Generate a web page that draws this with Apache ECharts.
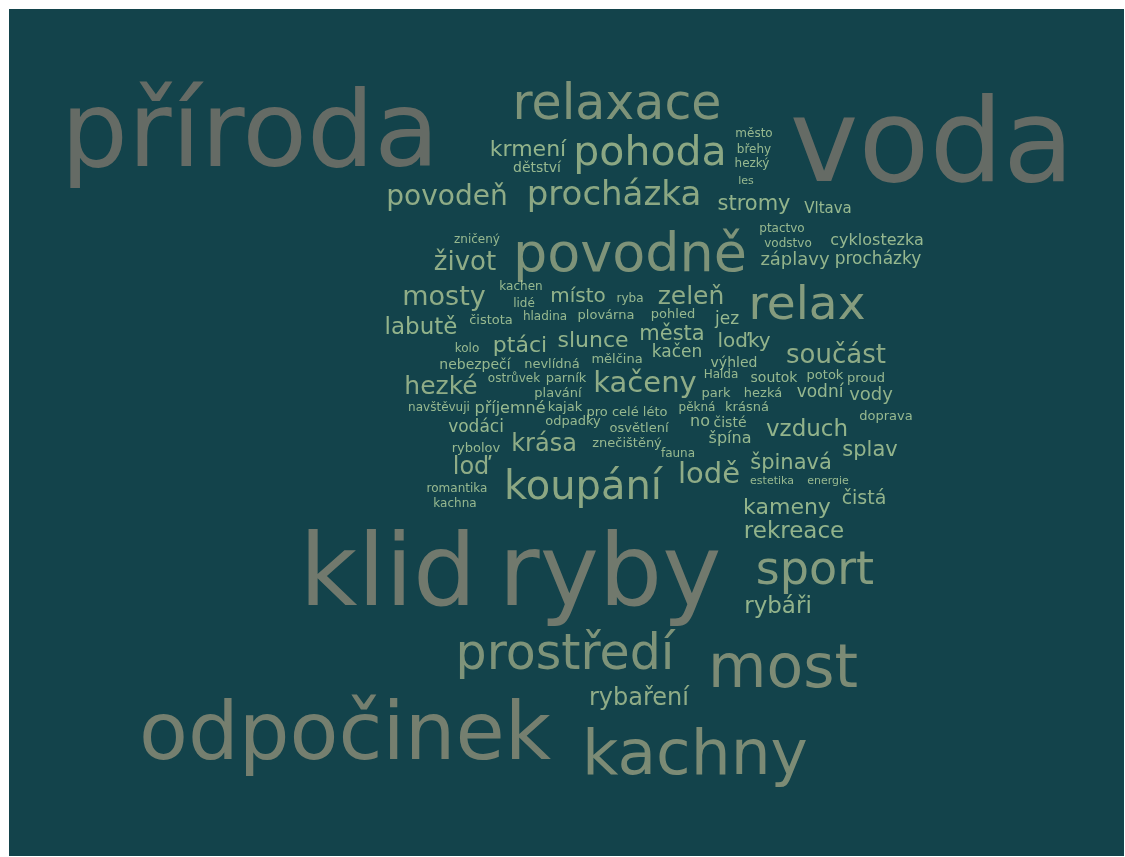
<!DOCTYPE html>
<html>
<head>
<meta charset="utf-8">
<script src="https://cdn.jsdelivr.net/npm/echarts@6/dist/echarts.min.js"></script>
<style>
html,body{margin:0;padding:0;background:#ffffff;}
#chart{position:absolute;left:9px;top:9px;width:1115px;height:847px;}
</style>
</head>
<body>
<div id="chart"></div>
<script>
// Words of the cloud and their weights (weight drives the font size)
var words = [
 'příroda','voda','klid','ryby','odpočinek','kachny','most','prostředí','sport','relaxace',
 'povodně','relax','koupání','pohoda','procházka','kačeny','lodě','povodeň','mosty','hezké',
 'součást','zeleň','život','labutě','vzduch','krmení','krása','loď','rekreace','stromy',
 'ptáci','slunce','splav','špinavá','kameny','rybáři','rybaření','města','místo','vody',
 'vodní','čistá','loďky','příjemné','vodáci','záplavy','procházky','no','cyklostezka','jez',
 'kačen','špína','Vltava','dětství','znečištěný','osvětlení','pro celé léto','odpadky','čisté','výhled',
 'plavání','kajak','ostrůvek','parník','navštěvuji','nebezpečí','nevlídná','mělčina','kolo','kachen',
 'lidé','čistota','hladina','plovárna','pohled','ryba','zničený','Halda','soutok','potok',
 'proud','park','hezká','pěkná','krásná','fauna','estetika','energie','doprava','město',
 'břehy','hezký','les','ptactvo','vodstvo','rybolov','romantika','kachna'
];
var weights = [
 106,116,100,100,80,63,60,49,46,49,
 54,47,40,41,34,29,29,28,27,25,
 26,25,26,23,23,22,24,24,23,21,
 22,22,21,21,22,23,24,21,20,18,
 17,19,20,16,17,18,17,16,16,17,
 17,16,15,14,13,13,13,13,14,14,
 13,13,12,13,12,14,13,13,12,12,
 12,13,12,13,13,12,12,12,14,13,
 13,13,13,12,13,12,11,11,13,12,
 12,12,11,12,12,13,12,12
];
// Word-cloud layout: centre of each word (in page pixels)
var layoutX = [
 250,932,388,610,345,695,783,565,815,617,
 630,807,583,650,614,645,709,447,444,441,
 836,691,465,421,807,528,544,471,794,754,
 520,593,870,791,787,778,639,672,578,871,
 820,864,744,510,476,795,878,700,877,727,
 677,730,828,537,627,639,627,573,730,734,
 558,565,514,566,439,475,552,617,467,521,
 524,491,545,606,673,630,477,721,774,825,
 866,716,763,697,747,678,772,828,886,754,
 754,752,746,782,788,476,457,455
];
var layoutY = [
 138,151,579,579,738,758,671,656,572,106,
 257,307,489,154,196,384,475,198,298,387,
 356,297,263,328,430,150,445,468,532,205,
 346,341,451,464,508,607,699,335,297,395,
 393,499,342,409,428,260,260,422,241,320,
 353,439,209,168,444,429,413,422,423,363,
 394,408,379,379,408,365,365,360,349,287,
 304,321,317,316,315,299,240,375,378,376,
 379,394,394,408,408,454,481,481,417,134,
 150,164,181,229,244,449,489,504
];

function colorFor(w) {
  if (w >= 105) return '#7b766c';
  if (w >= 90) return '#898776';
  if (w >= 70) return '#8f8e78';
  if (w >= 58) return '#979e80';
  if (w >= 48) return '#9aa884';
  if (w >= 42) return '#a3b38b';
  if (w >= 32) return '#aac091';
  if (w >= 24) return '#afc796';
  if (w >= 18) return '#b3cf9b';
  return '#b8d6a0';
}

var data = words.map(function (w, i) {
  return {
    name: w,
    value: [layoutX[i], layoutY[i], weights[i]],
    label: { fontSize: weights[i], color: colorFor(weights[i]) }
  };
});

var chart = echarts.init(document.getElementById('chart'));
chart.setOption({
  backgroundColor: '#13434b',
  animation: false,
  grid: { left: 0, right: 0, top: 0, bottom: 0 },
  xAxis: { type: 'value', min: 9, max: 1124, show: false },
  yAxis: { type: 'value', min: 9, max: 856, inverse: true, show: false },
  series: [{
    type: 'scatter',
    symbolSize: 0,
    data: data,
    label: {
      show: true,
      position: 'inside',
      formatter: '{b}',
      fontFamily: 'DejaVu Sans',
      align: 'center',
      verticalAlign: 'middle'
    },
    labelLayout: { hideOverlap: false }
  }]
});
</script>
</body>
</html>
